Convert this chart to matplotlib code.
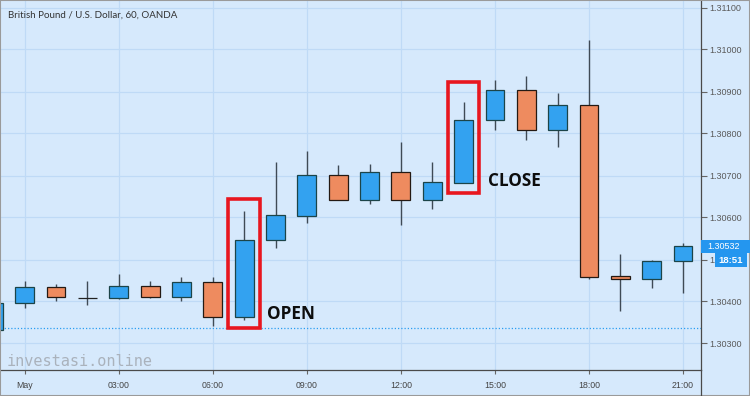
import matplotlib
matplotlib.use("Agg")
import matplotlib.pyplot as plt
from matplotlib.patches import Rectangle
from matplotlib.lines import Line2D
from matplotlib.transforms import blended_transform_factory
import numpy as np

# ---------------- data ----------------
title = "British Pound / U.S. Dollar, 60, OANDA"
hours = [-1, 0, 1, 2, 3, 4, 5, 6, 7, 8, 9, 10, 11, 12, 13, 14, 15, 16, 17, 18, 19, 20, 21]
opens = [1.30333, 1.30397, 1.30434, 1.30409, 1.30408, 1.30436, 1.30411, 1.30446, 1.30364,
         1.30546, 1.30604, 1.30701, 1.30641, 1.30708, 1.30641, 1.30683, 1.30831, 1.30903,
         1.30809, 1.30867, 1.30461, 1.30454, 1.30497]
highs = [1.30397, 1.30449, 1.30441, 1.30449, 1.30466, 1.30449, 1.30458, 1.30458, 1.30616,
         1.30731, 1.30758, 1.30725, 1.30727, 1.30780, 1.30733, 1.30875, 1.30927, 1.30936,
         1.30896, 1.31023, 1.30512, 1.30500, 1.30539]
lows = [1.30333, 1.30385, 1.30401, 1.30392, 1.30405, 1.30409, 1.30400, 1.30342, 1.30356,
        1.30528, 1.30588, 1.30641, 1.30633, 1.30583, 1.30620, 1.30683, 1.30808, 1.30784,
        1.30769, 1.30453, 1.30378, 1.30433, 1.30421]
closes = [1.30397, 1.30434, 1.30410, 1.30409, 1.30436, 1.30411, 1.30446, 1.30364, 1.30546,
          1.30605, 1.30701, 1.30641, 1.30708, 1.30641, 1.30684, 1.30831, 1.30903, 1.30809,
          1.30867, 1.30459, 1.30454, 1.30497, 1.30532]
prev_close_line = 1.30337
price_ticks = [1.303, 1.304, 1.305, 1.306, 1.307, 1.308, 1.309, 1.310, 1.311]
time_ticks = [0, 3, 6, 9, 12, 15, 18, 21]
time_labels = ["May", "03:00", "06:00", "09:00", "12:00", "15:00", "18:00", "21:00"]
countdown = "18:51"
open_hour, close_hour = 7, 14

# ---------------- style ----------------
BG = "#d6e9fc"
GRID = "#bfdaf6"
UP = "#33a2f0"
DOWN = "#ee8b5f"
UP_EDGE = "#1c4448"
DOWN_EDGE = "#241a14"
WICK = "#3f4a55"
AXIS = "#4a4a4a"
RED = "#e8161f"
BLUEBOX = "#2496ef"

W, H = 750, 396
fig = plt.figure(figsize=(W / 100, H / 100), dpi=100, facecolor=BG)
ax_left, ax_right, ax_top, ax_bottom = 1, 701, 1, 370
ax = fig.add_axes([ax_left / W, (H - ax_bottom) / H, (ax_right - ax_left) / W, (ax_bottom - ax_top) / H])
ax.set_facecolor(BG)

px_per_hour = 31.35
x0_px = 24.7
ax.set_xlim((ax_left - x0_px) / px_per_hour, (ax_right - x0_px) / px_per_hour)
y_top_price = 1.311 + 6.5 / 42000
y_bot_price = 1.311 - (ax_bottom - 7.5) / 42000
ax.set_ylim(y_bot_price, y_top_price)

hours_a = np.array(hours)
o = np.array(opens); c = np.array(closes); hi = np.array(highs); lo = np.array(lows)
up = c >= o
body_col = np.where(up, UP, DOWN)
edge_col = np.where(up, UP_EDGE, DOWN_EDGE)
edge_col = np.where(o == c, "#222222", edge_col)

ax.vlines(hours_a, lo, hi, color=WICK, lw=1.0, zorder=2)
ax.bar(hours_a, np.abs(c - o), bottom=np.minimum(o, c), width=0.6,
       color=body_col, edgecolor=edge_col, linewidth=0.9, zorder=3)

ax.axhline(prev_close_line, color="#2b9ef2", lw=0.9, linestyle=(0, (1, 1.6)), zorder=1.5)

# annotation boxes
ax.add_patch(Rectangle((open_hour - 0.52, 1.30338), 1.025, 1.30644 - 1.30338,
                       fill=False, edgecolor=RED, lw=2.6, zorder=4))
ax.add_patch(Rectangle((close_hour - 0.51, 1.30658), 1.01, 1.30923 - 1.30658,
                       fill=False, edgecolor=RED, lw=2.6, zorder=4))
ax.text(open_hour + 0.73, 1.30370, "OPEN", fontsize=12.3, fontweight="bold",
        family="Open Sans", color="#0d0d0d", va="center", ha="left", zorder=5)
ax.text(close_hour + 0.78, 1.30687, "CLOSE", fontsize=12.3, fontweight="bold",
        family="Open Sans", color="#0d0d0d", va="center", ha="left", zorder=5)

# axes styling
for s in ["top", "left"]:
    ax.spines[s].set_visible(False)
for s in ["right", "bottom"]:
    ax.spines[s].set_color(AXIS)
    ax.spines[s].set_linewidth(0.9)

ax.set_yticks(price_ticks)
ax.set_yticklabels([f"{v:.5f}" for v in price_ticks])
ax.yaxis.tick_right()
ax.tick_params(axis="y", length=4, width=0.8, color="#666", pad=2,
               labelsize=6.5, labelcolor="#5a5a5a")
for t in ax.get_yticklabels():
    t.set_family("Liberation Sans")

ax.set_xticks(time_ticks)
ax.set_xticklabels(time_labels)
ax.tick_params(axis="x", length=3, width=0.8, color="#666", pad=5,
               labelsize=6.3, labelcolor="#444")
for t in ax.get_xticklabels():
    t.set_family("Liberation Sans")

ax.grid(True, color=GRID, lw=0.9)
ax.set_axisbelow(True)

# price-scale extension into time axis
fig.add_artist(Line2D([ax_right / W, ax_right / W], [0, (H - ax_bottom) / H],
                      transform=fig.transFigure, color=AXIS, lw=0.9))

# last-price label and countdown
bt = blended_transform_factory(fig.transFigure, ax.transData)
dpp = (y_top_price - y_bot_price) / (ax_bottom - ax_top)
last = closes[-1]
fig.add_artist(Rectangle((ax_right / W, last - 6.5 * dpp), 49 / W, 13 * dpp,
                         transform=bt, facecolor=BLUEBOX, edgecolor="none", zorder=5))
fig.text(707 / W, last, f"{last:.5f}", transform=bt, color="white", fontsize=6.5,
         family="Liberation Sans", va="center", ha="left", zorder=6)
cd_y = last - 14 * dpp
fig.add_artist(Rectangle((715 / W, cd_y - 7 * dpp), 32 / W, 14 * dpp,
                         transform=bt, facecolor=BLUEBOX, edgecolor="none", zorder=5))
fig.text(731 / W, cd_y, countdown, transform=bt, color="white", fontsize=6.8,
         fontweight="bold", family="Liberation Sans", va="center", ha="center", zorder=6)

# title and watermark
fig.text(8 / W, 1 - 15 / H, title, fontsize=7, color="#333333", family="Lato",
         va="center", ha="left")
fig.text(7 / W, (H - 361) / H, "investasi.online", fontsize=11, color="#aab2bc",
         family="DejaVu Sans Mono", va="center", ha="left")

# outer frame
fig.add_artist(Rectangle((0, 0), 1, 1, transform=fig.transFigure, fill=False,
                         edgecolor="#9a9a9a", lw=1.5))

fig.savefig("out.png", dpi=100, facecolor=BG)
